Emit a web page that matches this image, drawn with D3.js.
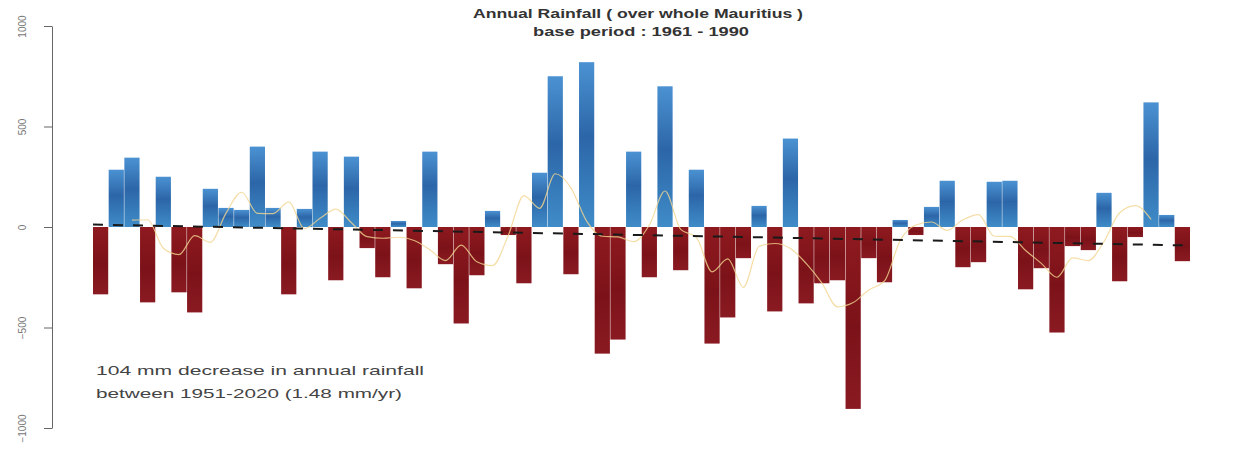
<!DOCTYPE html>
<html>
<head>
<meta charset="utf-8">
<script src="https://cdn.jsdelivr.net/npm/d3@7"></script>
<style>
  html, body { margin: 0; padding: 0; background: #fff; }
  svg { display: block; font-family: "Liberation Sans", Arial, sans-serif; }
</style>
</head>
<body>
<div id="chart"></div>
<script>
// annual rainfall anomaly (mm) vs 1961-1990, whole Mauritius
const years = d3.range(1951, 2021);
const anomaly = [
  -335, 285, 345, -375, 250, -325, -425, 190, 95, 85,
  400, 95, -335, 90, 375, -265, 350, -105, -250, 30,
  -305, 375, -185, -480, -240, 80, -40, -280, 270, 750,
  -235, 820, -630, -560, 375, -250, 700, -215, 285, -580,
  -450, -155, 105, -420, 440, -380, -280, -265, -905, -155,
  -275, 35, -40, 100, 230, -200, -175, 225, 230, -310,
  -205, -525, -95, -115, 170, -270, -50, 620, 60, -170
];
// 5-year running mean (yellow line)
const smoothYears = d3.range(1953, 2019);
const smoothValues = [
  34, 36, -106, -137, -43, -76, 69, 173, 68, 67,
  125, -8, 43, 89, 21, -48, -56, -51, -67, -113,
  -167, -90, -173, -192, -42, 156, 93, 265, 195, 29,
  -46, -49, -73, 10, 179, -12, -52, -223, -159, -300,
  -96, -82, -107, -181, -278, -397, -376, -313, -268, -67,
  10, 25, -17, 36, 62, -46, -47, -117, -181, -250,
  -154, -167, -72, 71, 106, 38
];
// linear trend, -1.48 mm/yr
const trendYears = [1951, 2020];
const trendValues = [12, -92];
const yTicks = [-1000, -500, 0, 500, 1000];

const W = 1233, H = 454;
const svg = d3.select('#chart').append('svg').attr('width', W).attr('height', H);

const x = d3.scaleBand().domain(years).range([93, 1190]).paddingInner(0.03);
const y = d3.scaleLinear().domain([-1000, 1000]).range([428, 26]);
const cx = yr => x(yr) + x.bandwidth() / 2;

const defs = svg.append('defs');
const gBlue = defs.append('linearGradient').attr('id', 'gBlue').attr('x1', 0).attr('x2', 0).attr('y1', 0).attr('y2', 1);
[['0%', '#4b92d2'], ['45%', '#2c66a8'], ['100%', '#3f8cc8']].forEach(([o, c]) =>
  gBlue.append('stop').attr('offset', o).attr('stop-color', c));
const gRed = defs.append('linearGradient').attr('id', 'gRed').attr('x1', 0).attr('x2', 0).attr('y1', 0).attr('y2', 1);
[['0%', '#8e1a1f'], ['55%', '#7c1219'], ['100%', '#8a1a22']].forEach(([o, c]) =>
  gRed.append('stop').attr('offset', o).attr('stop-color', c));

// bars
svg.append('g').selectAll('rect').data(years).join('rect')
  .attr('x', d => x(d))
  .attr('width', x.bandwidth())
  .attr('y', (d, i) => y(Math.max(0, anomaly[i])))
  .attr('height', (d, i) => Math.abs(y(anomaly[i]) - y(0)))
  .attr('fill', (d, i) => anomaly[i] >= 0 ? 'url(#gBlue)' : 'url(#gRed)');

// running mean
svg.append('path')
  .datum(smoothYears.map((yr, i) => [cx(yr), y(smoothValues[i])]))
  .attr('d', d3.line().curve(d3.curveMonotoneX))
  .attr('fill', 'none')
  .attr('stroke', '#f3d590')
  .attr('stroke-width', 1.2)
  .attr('opacity', 0.8);

// trend
svg.append('path')
  .datum(trendYears.map((yr, i) => [yr === 1951 ? x(yr) : x(yr) + x.bandwidth(), y(trendValues[i])]))
  .attr('d', d3.line())
  .attr('stroke', '#1a1a1a')
  .attr('stroke-width', 2)
  .attr('stroke-dasharray', '10,10');

// y axis
const ax = svg.append('g').attr('transform', 'translate(52,0)')
  .call(d3.axisLeft(y).tickValues(yTicks).tickSize(8).tickSizeOuter(0).tickFormat(d3.format('d')));
ax.select('.domain').attr('stroke', '#666');
ax.selectAll('.tick line').attr('stroke', '#666');
ax.selectAll('.tick text')
  .attr('fill', '#777').attr('font-size', 10)
  .attr('transform', 'rotate(-90)')
  .attr('x', 0).attr('y', -26).attr('dy', 0)
  .attr('text-anchor', 'middle');

// title
svg.append('text').attr('x', 638).attr('y', 18).attr('text-anchor', 'middle')
  .attr('font-size', 12).attr('font-weight', 'bold').attr('fill', '#333')
  .attr('textLength', 330).attr('lengthAdjust', 'spacingAndGlyphs')
  .text('Annual Rainfall ( over whole Mauritius )');
svg.append('text').attr('x', 641).attr('y', 36).attr('text-anchor', 'middle')
  .attr('font-size', 12).attr('font-weight', 'bold').attr('fill', '#333')
  .attr('textLength', 216).attr('lengthAdjust', 'spacingAndGlyphs')
  .text('base period : 1961 - 1990');

// note
svg.append('text').attr('x', 96).attr('y', 375)
  .attr('font-size', 13).attr('fill', '#444')
  .attr('textLength', 328).attr('lengthAdjust', 'spacingAndGlyphs')
  .text('104 mm decrease in annual rainfall');
svg.append('text').attr('x', 96).attr('y', 398)
  .attr('font-size', 13).attr('fill', '#444')
  .attr('textLength', 306).attr('lengthAdjust', 'spacingAndGlyphs')
  .text('between 1951-2020 (1.48 mm/yr)');
</script>
</body>
</html>
